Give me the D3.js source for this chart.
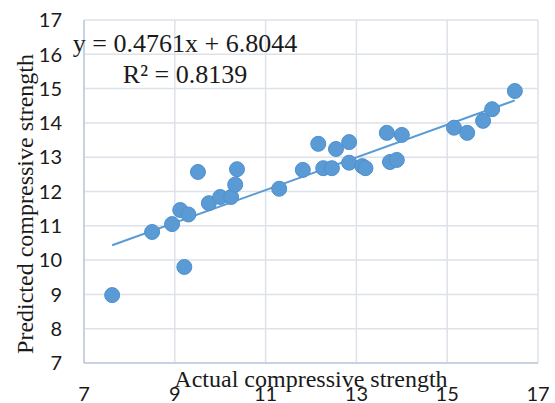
<!doctype html>
<html lang="en">
<head>
  <meta charset="utf-8">
  <title>Actual vs predicted compressive strength</title>
  <script src="https://d3js.org/d3.v7.min.js"></script>
  <style>
    body { margin: 0; background: #fff; }
  </style>
</head>
<body>
  <div id="chart"></div>
  <script type="text/javascript">

    var width = 555, height = 403;

    // data
    var actual    = [7.62, 8.50, 8.94, 9.12, 9.21, 9.30, 9.51, 9.75, 10.00, 10.24,
                     10.33, 10.37, 11.30, 11.82, 12.16, 12.27, 12.46, 12.55, 12.84, 12.84,
                     13.13, 13.20, 13.67, 13.74, 13.89, 14.00, 15.15, 15.44, 15.79, 15.99, 16.49];
    var predicted = [8.98, 10.82, 11.05, 11.46, 9.80, 11.33, 12.57, 11.66, 11.84, 11.84,
                     12.20, 12.65, 12.08, 12.63, 13.39, 12.68, 12.68, 13.24, 13.44, 12.84,
                     12.74, 12.68, 13.71, 12.86, 12.92, 13.65, 13.86, 13.71, 14.06, 14.40, 14.93];
    var xTicks = [7, 9, 11, 13, 15, 17];
    var yTicks = [7, 8, 9, 10, 11, 12, 13, 14, 15, 16, 17];

    // linear trendline shown on the chart
    var slope = 0.4761, intercept = 6.8044;
    var equationLabels = ['y = 0.4761x + 6.8044', 'R\u00B2 = 0.8139'];
    var xTitle = 'Actual compressive strength';
    var yTitle = 'Predicted compressive strength';

    var margin = {top: 20, right: 17, bottom: 40, left: 84};

    var x = d3.scaleLinear().domain([7, 17]).range([margin.left, width - margin.right]);
    var y = d3.scaleLinear().domain([7, 17]).range([height - margin.bottom, margin.top]);

    var svg = d3.select('#chart')
                .append('svg')
                .attr('width', width)
                .attr('height', height);

    // gridlines
    svg.append('g')
       .selectAll('line.hgrid')
       .data(yTicks)
       .enter()
       .append('line')
       .attr('x1', x(7)).attr('x2', x(17))
       .attr('y1', function(d) { return y(d); })
       .attr('y2', function(d) { return y(d); })
       .attr('stroke', '#dde2ea')
       .attr('stroke-width', 1.5);

    svg.append('g')
       .selectAll('line.vgrid')
       .data(xTicks)
       .enter()
       .append('line')
       .attr('y1', y(7)).attr('y2', y(17))
       .attr('x1', function(d) { return x(d); })
       .attr('x2', function(d) { return x(d); })
       .attr('stroke', '#dde2ea')
       .attr('stroke-width', 1.5);

    // axis lines (left and bottom)
    svg.append('line')
       .attr('x1', x(7)).attr('x2', x(7))
       .attr('y1', y(7)).attr('y2', y(17))
       .attr('stroke', '#bccadf').attr('stroke-width', 1.5);
    svg.append('line')
       .attr('x1', x(7)).attr('x2', x(17))
       .attr('y1', y(7)).attr('y2', y(7))
       .attr('stroke', '#bccadf').attr('stroke-width', 1.5);

    // tick labels
    svg.append('g')
       .selectAll('text')
       .data(yTicks)
       .enter()
       .append('text')
       .attr('x', 62)
       .attr('y', function(d) { return y(d); })
       .attr('dy', '0.36em')
       .attr('text-anchor', 'end')
       .style('font-family', 'Lato, "Open Sans", sans-serif')
       .style('font-size', '20px')
       .attr('fill', '#1a1a1a')
       .text(function(d) { return d; });

    svg.append('g')
       .selectAll('text')
       .data(xTicks)
       .enter()
       .append('text')
       .attr('x', function(d) { return x(d); })
       .attr('y', 401)
       .attr('text-anchor', 'middle')
       .style('font-family', 'Lato, "Open Sans", sans-serif')
       .style('font-size', '20px')
       .attr('fill', '#1a1a1a')
       .text(function(d) { return d; });

    // trendline across the data range
    var xExtent = d3.extent(actual);
    svg.append('line')
       .attr('x1', x(xExtent[0])).attr('y1', y(slope * xExtent[0] + intercept))
       .attr('x2', x(xExtent[1])).attr('y2', y(slope * xExtent[1] + intercept))
       .attr('stroke', '#5b9bd5')
       .attr('stroke-width', 2);

    // points
    svg.append('g')
       .selectAll('circle')
       .data(actual)
       .enter()
       .append('circle')
       .attr('cx', function(d) { return x(d); })
       .attr('cy', function(d, i) { return y(predicted[i]); })
       .attr('r', 7.5)
       .attr('fill', '#5b9bd5')
       .attr('stroke', '#4f8fcc')
       .attr('stroke-width', 1);

    // equation label
    svg.append('g')
       .selectAll('text')
       .data(equationLabels)
       .enter()
       .append('text')
       .attr('x', 185)
       .attr('y', function(d, i) { return 52 + i * 31; })
       .attr('text-anchor', 'middle')
       .style('font-family', '"Liberation Serif", "Times New Roman", serif')
       .style('font-size', '26px')
       .attr('fill', '#1a1a1a')
       .text(function(d) { return d; });

    // axis titles
    svg.append('text')
       .attr('x', (x(7) + x(17)) / 2)
       .attr('y', 387)
       .attr('text-anchor', 'middle')
       .style('font-family', '"Liberation Serif", "Times New Roman", serif')
       .style('font-size', '24px')
       .attr('fill', '#1a1a1a')
       .text(xTitle);

    svg.append('text')
       .attr('transform', 'translate(33,204) rotate(-90)')
       .attr('text-anchor', 'middle')
       .style('font-family', '"Liberation Serif", "Times New Roman", serif')
       .style('font-size', '24px')
       .attr('fill', '#1a1a1a')
       .text(yTitle);

  </script>
</body>
</html>
